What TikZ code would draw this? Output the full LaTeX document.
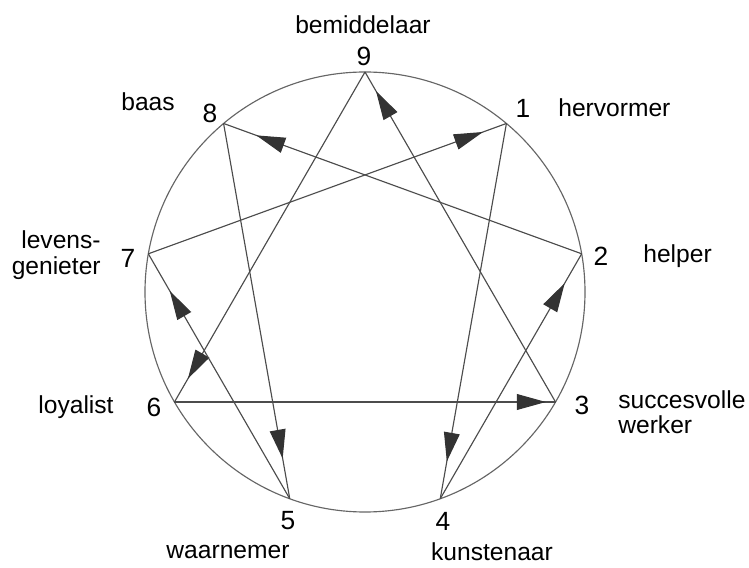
\documentclass[tikz,border=0pt]{standalone}
\usepackage{fontspec}
\setmainfont{Liberation Sans}
\usetikzlibrary{arrows.meta,decorations.markings}

\begin{document}
\begin{tikzpicture}[x=0.02cm,y=0.02cm,
    lijn/.style={draw=black!70, line width=0.65pt},
    pijl/.style={postaction={decorate}, decoration={markings,
        mark=at position -#1pt with {\arrow[black!80]{Triangle[length=16.5pt,width=9pt]}}}},
    cijfer/.style={font=\fontsize{15}{15}\selectfont, inner sep=0pt},
    type/.style={font=\fontsize{14}{14.5}\selectfont, inner sep=0pt}]
  \useasboundingbox (-365,-275) rectangle (384,292);
  \draw[lijn, draw=black!60] (0,0) circle (220);
  % punten op de cirkel
  \foreach \i in {1,...,9}
    \coordinate (p\i) at ({90-40*\i}:220);
  % lijnen met pijlen
  \foreach \a/\b/\d in {9/6/15.3,6/3/5.5,3/9/12.5,1/4/21.5,4/2/19.3,2/8/19.8,8/5/23.2,5/7/24.4,7/1/14.2}
    \draw[lijn, pijl=\d] (p\a) -- (p\b);
  % cijfers
  \node[cijfer] (n9) at (-1,236) {9};
  \node[cijfer] (n1) at (158,184) {1};
  \node[cijfer] (n2) at (236,36) {2};
  \node[cijfer] (n3) at (217,-113) {3};
  \node[cijfer] (n4) at (78,-229) {4};
  \node[cijfer] (n5) at (-77,-229) {5};
  \node[cijfer] (n6) at (-211,-115) {6};
  \node[cijfer] (n7) at (-237,34) {7};
  \node[cijfer] (n8) at (-155,179) {8};
  % namen van de types
  \node[type] (t9) at (-2,267) {bemiddelaar};
  \node[type, anchor=west] (t1) at (193,184) {hervormer};
  \node[type, anchor=west] (t2) at (278,36) {helper};
  \node[type, anchor=west, align=left] (t3) at (253,-120) {succesvolle\\werker};
  \node[type] (t4) at (127,-260) {kunstenaar};
  \node[type] (t5) at (-137,-260) {waarnemer};
  \node[type] (t6) at (-289,-115) {loyalist};
  \node[type, anchor=east, align=right] (t7) at (-264,37) {levens-\\genieter};
  \node[type] (t8) at (-217,190) {baas};
\end{tikzpicture}
\end{document}
